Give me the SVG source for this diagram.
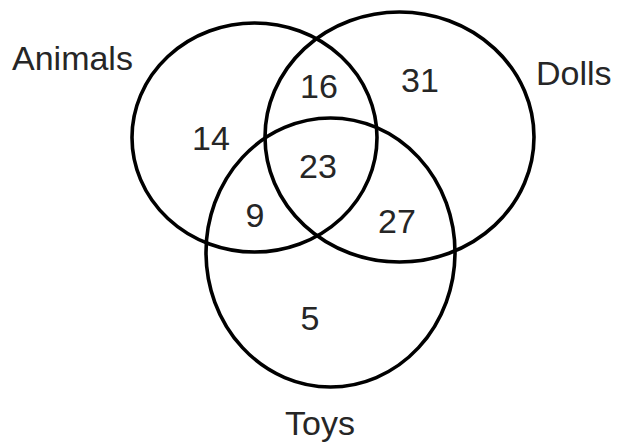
<svg xmlns="http://www.w3.org/2000/svg" width="618" height="448" viewBox="0 0 618 448">
<style>
.c{fill:none;stroke:#000;stroke-width:3.6}
.t{font-family:"Liberation Sans",Arial,sans-serif;font-size:34px;fill:#262626}
.n{text-anchor:middle}
</style>
<rect width="618" height="448" fill="#fff"/>
<g id="animals"><ellipse class="c" cx="254.5" cy="137.5" rx="122.5" ry="114.5"/><text class="t" x="12" y="70">Animals</text></g>
<g id="dolls"><ellipse class="c" cx="399.5" cy="137" rx="134.5" ry="125"/><text class="t" x="536" y="85">Dolls</text></g>
<g id="toys"><ellipse class="c" cx="330.5" cy="252.5" rx="124.5" ry="134.5"/><text class="t" x="285" y="435">Toys</text></g>
<g id="counts">
<text class="t n" x="211" y="150">14</text>
<text class="t n" x="319" y="98">16</text>
<text class="t n" x="420" y="92">31</text>
<text class="t n" x="318" y="178">23</text>
<text class="t n" x="255" y="227">9</text>
<text class="t n" x="397" y="233">27</text>
<text class="t n" x="310" y="330">5</text>
</g>
</svg>
